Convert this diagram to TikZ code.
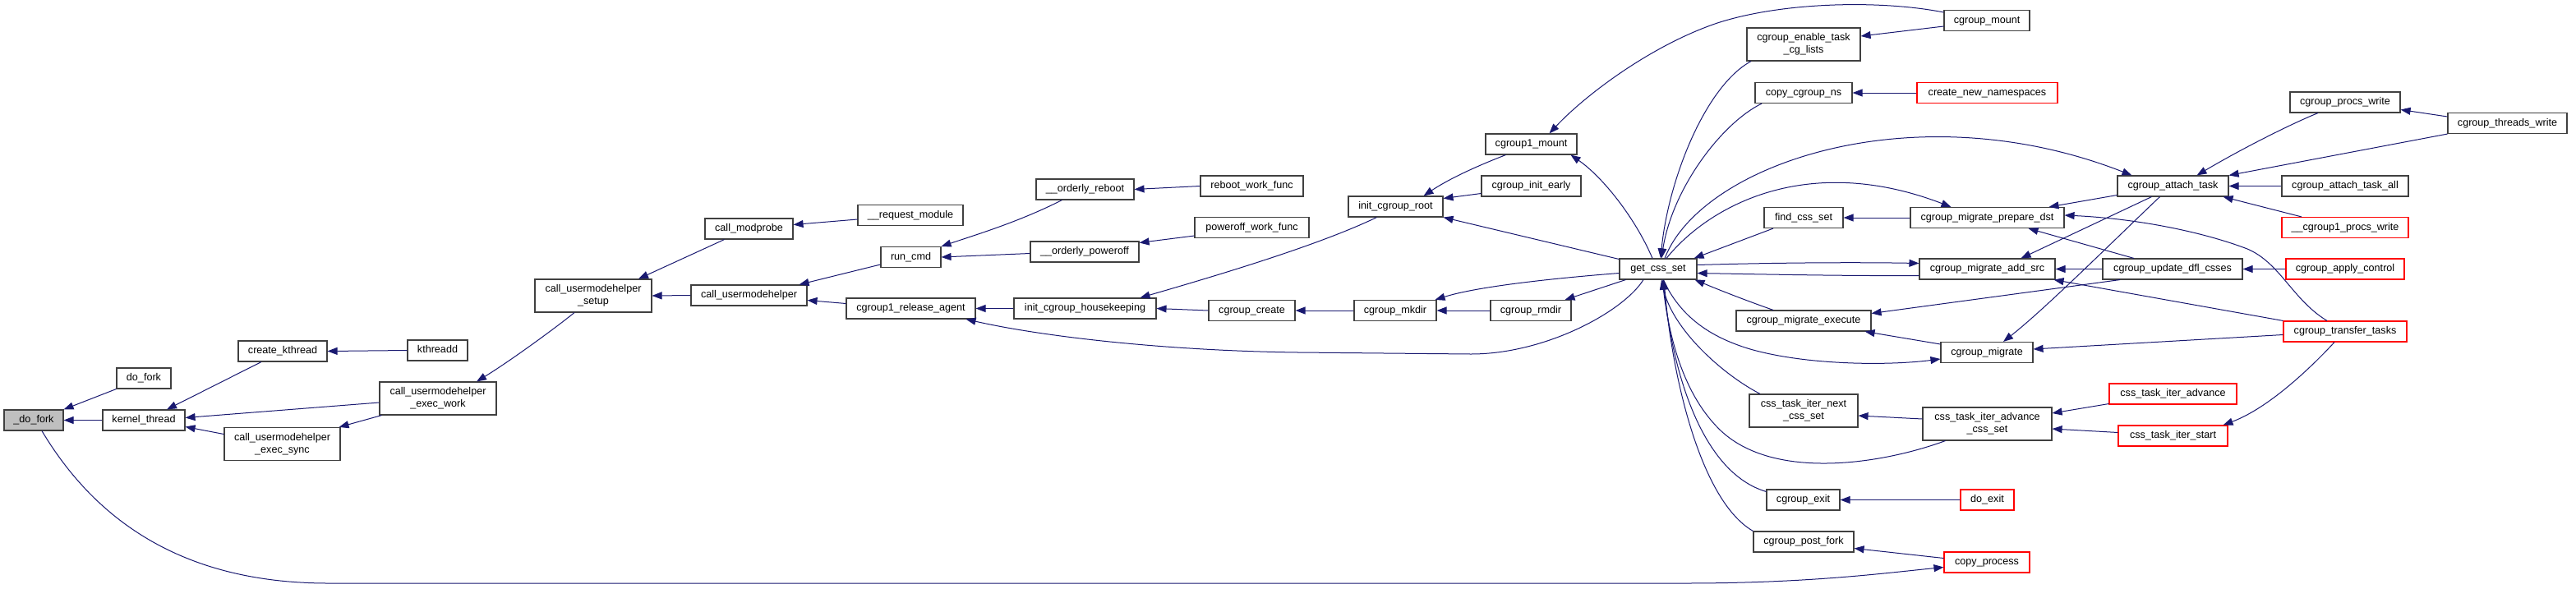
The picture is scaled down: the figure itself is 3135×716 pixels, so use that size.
\documentclass[tikz,border=0pt]{standalone}
\usepackage{fontspec}
\setmainfont{Liberation Sans}
\usepackage{tikz}
\usetikzlibrary{arrows.meta}
\definecolor{edge}{RGB}{25, 25, 112}
\definecolor{boxline}{RGB}{64, 64, 64}
\definecolor{boxred}{RGB}{255, 0, 0}
\definecolor{rootfill}{RGB}{191, 191, 191}

\begin{document}
\begin{tikzpicture}[x=1pt, y=-1pt,
  fn/.style={draw=boxline, line width=1.1pt, fill=white, inner sep=0pt,
    minimum height=25pt, text height=9pt, text depth=3pt,
    font=\fontsize{12.6}{15}\selectfont},
  fntwo/.style={fn, minimum height=40pt, text height=, text depth=, align=center},
  ext/.style={draw=boxred},
  call/.style={draw=edge, line width=1pt, -{Triangle[length=12pt, width=9pt]}}]

  \useasboundingbox (0, 0) rectangle (3135, 716);

  % callers of _do_fork
  \node[fn, fill=rootfill, minimum width=72pt] (dofk) at (41, 511.5) {\_do\_fork};
  \node[fn, minimum width=66pt] (dofork) at (175, 460.5) {do\_fork};
  \node[fn, minimum width=100pt] (kthread) at (175, 511.5) {kernel\_thread};
  \node[fn, minimum width=108pt] (createkt) at (344, 427.5) {create\_kthread};
  \node[fntwo, minimum width=141pt] (execsync) at (343.5, 540.5) {call\_usermodehelper\\\_exec\_sync};
  \node[fn, minimum width=73pt] (kthreadd) at (532.5, 426.5) {kthreadd};
  \node[fntwo, minimum width=142pt] (execwork) at (533, 485) {call\_usermodehelper\\\_exec\_work};
  \node[fntwo, minimum width=142pt] (uhsetup) at (722, 360) {call\_usermodehelper\\\_setup};
  \node[fn, minimum width=107pt] (modprobe) at (911.5, 278.5) {call\_modprobe};
  \node[fn, minimum width=141pt] (umhelper) at (911.5, 359.5) {call\_usermodehelper};
  \node[fn, minimum width=128pt] (reqmod) at (1108, 262) {\_\_request\_module};
  \node[fn, minimum width=73pt] (runcmd) at (1108.5, 313) {run\_cmd};
  \node[fn, minimum width=157pt] (relagent) at (1108.5, 375.5) {cgroup1\_release\_agent};
  \node[fn, minimum width=119pt] (oreboot) at (1320.5, 230.5) {\_\_orderly\_reboot};
  \node[fn, minimum width=132pt] (opoweroff) at (1320, 306.5) {\_\_orderly\_poweroff};
  \node[fn, minimum width=173pt] (housekeep) at (1320.5, 375.5) {init\_cgroup\_housekeeping};
  \node[fn, minimum width=125pt] (rebootwf) at (1523.5, 226.5) {reboot\_work\_func};
  \node[fn, minimum width=139pt] (poweroffwf) at (1523.5, 277) {poweroff\_work\_func};
  \node[fn, minimum width=105pt] (cgcreate) at (1523.5, 378) {cgroup\_create};
  \node[fn, minimum width=115pt] (initroot) at (1698.5, 251.5) {init\_cgroup\_root};
  \node[fn, minimum width=100pt] (cgmkdir) at (1698, 378) {cgroup\_mkdir};
  \node[fn, minimum width=111pt] (cg1mount) at (1863.5, 175.5) {cgroup1\_mount};
  \node[fn, minimum width=121pt] (initearly) at (1863.5, 226.5) {cgroup\_init\_early};
  \node[fn, minimum width=98pt] (cgrmdir) at (1863, 378) {cgroup\_rmdir};
  \node[fn, minimum width=94pt] (getcss) at (2018, 327.5) {get\_css\_set};

  % callers of get_css_set
  \node[fntwo, minimum width=138pt] (enablecg) at (2195, 54) {cgroup\_enable\_task\\\_cg\_lists};
  \node[fn, minimum width=118pt] (copyns) at (2195, 113) {copy\_cgroup\_ns};
  \node[fn, minimum width=96pt] (findcss) at (2195, 265) {find\_css\_set};
  \node[fn, minimum width=164pt] (execute) at (2195, 390.5) {cgroup\_migrate\_execute};
  \node[fntwo, minimum width=132pt] (nextcss) at (2195, 500) {css\_task\_iter\_next\\\_css\_set};
  \node[fn, minimum width=89pt] (cgexit) at (2194.5, 608.5) {cgroup\_exit};
  \node[fn, minimum width=122pt] (postfork) at (2195, 659.5) {cgroup\_post\_fork};
  \node[fn, minimum width=104pt] (cgmount) at (2418, 25) {cgroup\_mount};
  \node[fn, ext, minimum width=171pt] (newns) at (2418.5, 113) {create\_new\_namespaces};
  \node[fn, minimum width=187pt] (prepdst) at (2418.5, 265) {cgroup\_migrate\_prepare\_dst};
  \node[fn, minimum width=165pt] (addsrc) at (2418.5, 327.5) {cgroup\_migrate\_add\_src};
  \node[fn, minimum width=112pt] (migrate) at (2418, 429) {cgroup\_migrate};
  \node[fntwo, minimum width=157pt] (advcss) at (2418.5, 516) {css\_task\_iter\_advance\\\_css\_set};
  \node[fn, ext, minimum width=65pt] (doexit) at (2418.5, 608.5) {do\_exit};
  \node[fn, ext, minimum width=104pt] (copyproc) at (2418, 684.5) {copy\_process};
  \node[fn, minimum width=135pt] (attach) at (2644.5, 226.5) {cgroup\_attach\_task};
  \node[fn, minimum width=170pt] (updfl) at (2644, 327.5) {cgroup\_update\_dfl\_csses};
  \node[fn, ext, minimum width=155pt] (iteradv) at (2644.5, 479.5) {css\_task\_iter\_advance};
  \node[fn, ext, minimum width=133pt] (iterstart) at (2644.5, 530.5) {css\_task\_iter\_start};
  \node[fn, minimum width=134pt] (procsw) at (2854, 124.5) {cgroup\_procs\_write};
  \node[fn, minimum width=154pt] (attachall) at (2854, 226.5) {cgroup\_attach\_task\_all};
  \node[fn, ext, minimum width=154pt] (procsw1) at (2854, 277) {\_\_cgroup1\_procs\_write};
  \node[fn, ext, minimum width=144pt] (applyctl) at (2854, 327.5) {cgroup\_apply\_control};
  \node[fn, ext, minimum width=150pt] (transfer) at (2854, 403.5) {cgroup\_transfer\_tasks};
  \node[fn, minimum width=145pt] (threadsw) at (3051.5, 150) {cgroup\_threads\_write};

  % left part
  \draw[call] (dofork.south west) -- (dofk.north east);
  \draw[call] (kthread.west) -- (dofk.east);
  \draw[call] ([xshift=10pt]dofk.south) .. controls (120, 640) and (230, 710) .. (400, 710)
    -- (2050, 710) .. controls (2200, 710) and (2290, 698) .. ([yshift=-6pt]copyproc.west);
  \draw[call] ([xshift=-26pt]createkt.south) -- ([xshift=28pt]kthread.north);
  \draw[call] (kthreadd.west) -- (createkt.east);
  \draw[call] ([yshift=-5pt]execwork.west) -- ([yshift=3pt]kthread.east);
  \draw[call] ([yshift=12pt]execsync.west) -- ([yshift=-8pt]kthread.east);
  \draw[call] ([xshift=3pt]execwork.south west) -- ([xshift=-2pt]execsync.north east);
  \draw[call] ([xshift=-23pt]uhsetup.south) .. controls (675, 400) and (620, 440) .. ([xshift=47pt]execwork.north);
  \draw[call] (umhelper.west) -- (uhsetup.east);
  \draw[call] ([yshift=6pt]relagent.west) -- ([yshift=-6pt]umhelper.east);
  \draw[call] ([xshift=-30pt]modprobe.south) -- ([xshift=55pt]uhsetup.north);
  \draw[call] ([yshift=-5pt]reqmod.west) -- ([yshift=5pt]modprobe.east);
  \draw[call] ([yshift=-9pt]runcmd.west) -- ([xshift=-10pt]umhelper.north east);
  \draw[call] ([xshift=-28pt]oreboot.south) .. controls (1240, 270) and (1190, 285) .. (runcmd.north east);
  \draw[call] ([yshift=-2pt]opoweroff.west) -- (runcmd.east);
  \draw[call] (rebootwf.west) -- (oreboot.east);
  \draw[call] ([yshift=-10pt]poweroffwf.west) -- ([yshift=11pt]opoweroff.east);
  \draw[call] ([xshift=-23pt]initroot.south) .. controls (1610, 296) and (1500, 330) .. ([xshift=67pt]housekeep.north);
  \draw[call] (housekeep.west) -- (relagent.east);
  \draw[call] (cgcreate.west) -- (housekeep.east);
  \draw[call] ([xshift=-18pt]getcss.south) .. controls (1975, 380) and (1880, 431) .. (1790, 431)
    -- (1580, 429) .. controls (1420, 427) and (1270, 410) .. ([xshift=-12pt]relagent.south east);
  \draw[call] ([xshift=-31pt]cg1mount.south) .. controls (1790, 205) and (1760, 220) .. ([xshift=34pt]initroot.north);
  \draw[call] ([yshift=-9pt]initearly.west) -- ([yshift=10pt]initroot.east);
  \draw[call] ([yshift=12pt]getcss.west) -- (initroot.south east);
  \draw[call] ([xshift=-7pt]getcss.north) .. controls (1990, 265) and (1950, 215) .. ([xshift=48pt]cg1mount.south);
  \draw[call] ([yshift=-5pt]getcss.west) .. controls (1900, 338) and (1800, 348) .. ([xshift=-2pt]cgmkdir.north east);
  \draw[call] ([xshift=8pt]getcss.south west) -- ([xshift=-8pt]cgrmdir.north east);
  \draw[call] (cgmkdir.west) -- (cgcreate.east);
  \draw[call] (cgrmdir.west) -- (cgmkdir.east);

  % around get_css_set
  \draw[call] ([yshift=10pt]cgmount.west) .. controls (2290, 0) and (2170, 2) .. (2090, 28)
    .. controls (2010, 55) and (1930, 115) .. ([xshift=22pt]cg1mount.north);
  \draw[call] ([yshift=-7pt]cgmount.west) -- ([yshift=10pt]enablecg.east);
  \draw[call] ([xshift=-64pt]enablecg.south) .. controls (2075, 105) and (2030, 220) .. ([xshift=3pt]getcss.north);
  \draw[call] ([xshift=-51pt]copyns.south) .. controls (2095, 150) and (2035, 230) .. ([xshift=4pt]getcss.north);
  \draw[call] (newns.west) -- (copyns.east);
  \draw[call] ([xshift=8pt]getcss.north) .. controls (2070, 200) and (2330, 110) .. ([xshift=-50pt]attach.north);
  \draw[call] ([xshift=10pt]getcss.north) .. controls (2080, 250) and (2200, 185) .. ([xshift=-44pt]prepdst.north);
  \draw[call] ([xshift=-37pt]findcss.south) -- ([xshift=-4pt]getcss.north east);
  \draw[call] (prepdst.west) -- (findcss.east);
  \draw[call] ([yshift=5pt]getcss.east) .. controls (2150, 320) and (2250, 319) .. ([yshift=7pt]addsrc.west);
  \draw[call] ([yshift=-8pt]addsrc.west) .. controls (2250, 336) and (2150, 334) .. ([yshift=-5pt]getcss.east);
  \draw[call] ([xshift=-37pt]execute.north) .. controls (2120, 364) and (2090, 352) .. ([xshift=-3pt]getcss.south east);
  \draw[call] ([yshift=10pt]migrate.west) -- ([xshift=-8pt]execute.south east);
  \draw[call] ([xshift=6pt]getcss.south) .. controls (2045, 385) and (2080, 410) .. (2130, 425)
    .. controls (2200, 445) and (2300, 445) .. ([yshift=-8pt]migrate.west);
  \draw[call] ([xshift=-53pt]nextcss.north) .. controls (2095, 455) and (2035, 400) .. ([xshift=4pt]getcss.south);
  \draw[call] ([yshift=6pt]advcss.west) -- ([yshift=-6pt]nextcss.east);
  \draw[call] ([xshift=-51pt]advcss.south) .. controls (2290, 565) and (2160, 585) .. (2095, 525)
    .. controls (2045, 478) and (2030, 400) .. ([xshift=5pt]getcss.south);
  \draw[call] ([yshift=-3pt]cgexit.north west) .. controls (2070, 575) and (2035, 450) .. ([xshift=6pt]getcss.south);
  \draw[call] (doexit.west) -- (cgexit.east);
  \draw[call] (postfork.north west) .. controls (2070, 610) and (2035, 460) .. ([xshift=7pt]getcss.south);
  \draw[call] ([yshift=5pt]copyproc.west) -- ([yshift=-8pt]postfork.east);

  % right part
  \draw[call] ([yshift=-11pt]attach.west) -- ([xshift=75pt]prepdst.north);
  \draw[call] ([xshift=-22pt]transfer.north) .. controls (2790, 365) and (2775, 320) .. (2735, 303)
    .. controls (2680, 282) and (2600, 266) .. ([yshift=3pt]prepdst.east);
  \draw[call] ([xshift=-47pt]updfl.north) -- ([xshift=50pt]prepdst.south);
  \draw[call] ([xshift=-26pt]attach.south) -- ([xshift=41pt]addsrc.north);
  \draw[call] ([xshift=-16pt]attach.south) .. controls (2570, 295) and (2490, 375) .. ([xshift=20pt]migrate.north);
  \draw[call] (updfl.west) -- (addsrc.east);
  \draw[call] ([xshift=-64pt]updfl.south) -- ([yshift=9pt]execute.east);
  \draw[call] ([yshift=-12pt]iteradv.west) -- ([yshift=13pt]advcss.east);
  \draw[call] ([yshift=4pt]iterstart.west) -- ([yshift=-6pt]advcss.east);
  \draw[call] ([xshift=-33pt]procsw.south) .. controls (2790, 150) and (2730, 180) .. ([xshift=29pt]attach.north);
  \draw[call] ([yshift=8pt]threadsw.west) -- ([yshift=-9pt]procsw.east);
  \draw[call] (threadsw.south west) -- (attach.north east);
  \draw[call] (attachall.west) -- (attach.east);
  \draw[call] ([xshift=-53pt]procsw1.north) -- ([xshift=-7pt]attach.south east);
  \draw[call] (applyctl.west) -- (updfl.east);
  \draw[call] ([xshift=-13pt]transfer.south) .. controls (2810, 450) and (2760, 497) .. ([xshift=61pt]iterstart.north);
  \draw[call] (transfer.north west) -- ([xshift=-2pt]addsrc.south east);
  \draw[call] ([yshift=-4pt]transfer.west) -- ([yshift=4pt]migrate.east);

\end{tikzpicture}
\end{document}
